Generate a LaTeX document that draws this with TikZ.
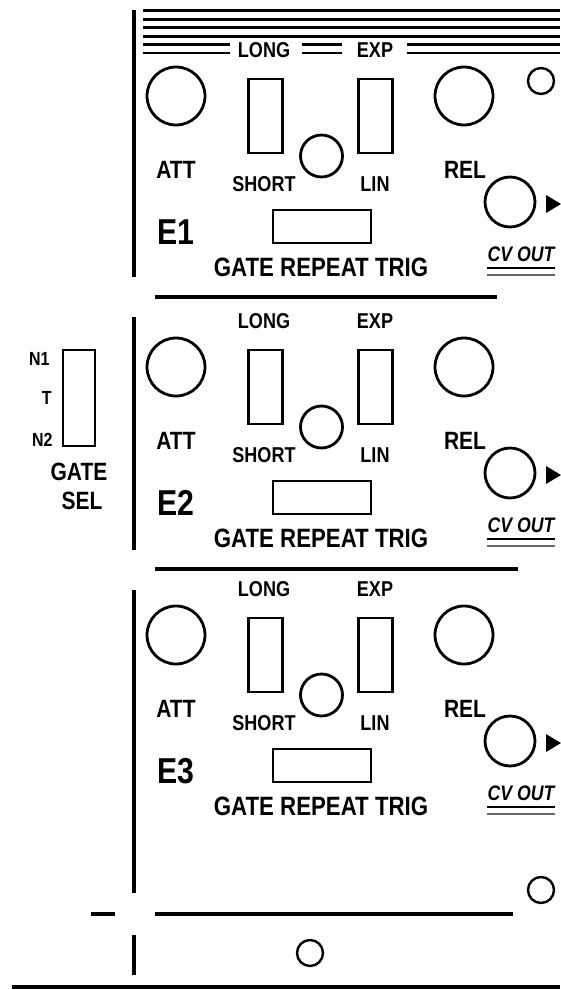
\documentclass[tikz,border=0pt]{standalone}
\usepackage{fontspec}
\newfontfamily\panelfont{Liberation Sans}[FakeStretch=0.84]
\usetikzlibrary{positioning}

\begin{document}
\begin{tikzpicture}[x=1pt, y=-1pt, line width=2.8pt,
  every node/.style={inner sep=0pt, font=\panelfont\bfseries},
  knob/.style={draw, circle, minimum size=58pt},
  jack/.style={draw, circle, minimum size=50pt},
  pot/.style={draw, circle, minimum size=42pt},
  hole/.style={draw, circle, line width=2.4pt, minimum size=26pt},
  switchbox/.style={draw, rectangle, minimum width=34pt, minimum height=74pt},
  lbl/.style={font=\panelfont\bfseries\fontsize{25}{25}\selectfont},
  sublbl/.style={font=\panelfont\bfseries\fontsize{21.5}{22}\selectfont},
  tinylbl/.style={font=\panelfont\bfseries\fontsize{19}{19}\selectfont, anchor=east},
  rule/.style={line width=3.2pt}]
  \useasboundingbox (0,0) rectangle (560,990);

  % top stripes
  \foreach \y in {10.7,19.2,27.7,36.2}
    \draw[rule] (143,\y) -- (560,\y);
  \foreach \y in {44.5,53}
    \draw[line width=2.2pt] (143,\y) -- (230,\y) (302,\y) -- (342,\y) (407,\y) -- (560,\y);

  % the three envelope modules
  \foreach \n/\dy in {1/0, 2/271, 3/539} {
    \begin{scope}[shift={(0,\dy)}]
      \node[knob] (att\n) at (176,96) {};
      \node[knob] (rel\n) at (464,96) {};
      \node[switchbox] (long\n) at (265.5,116) {};
      \node[switchbox] (exp\n) at (375.5,116) {};
      \node[pot] (mid\n) at (321.5,156) {};
      \node[jack] (cv\n) at (510,202) {};
      \node[draw, rectangle, minimum width=98pt, minimum height=33pt] (gate\n) at (322,226.5) {};
      \fill (546,195) -- (561,204) -- (546,213) -- cycle;
      \node[sublbl] (longl\n) at (264,50) {LONG};
      \node[sublbl] (expl\n) at (375,50) {EXP};
      \node[sublbl] (shortl\n) at (264,184) {SHORT};
      \node[sublbl] (linl\n) at (375,184) {LIN};
      \node[lbl] (attl\n) at (176,170) {ATT};
      \node[lbl] (rell\n) at (465,170) {REL};
      \node[font=\panelfont\bfseries\fontsize{36}{36}\selectfont] (el\n) at (176,232) {E\n};
      \node[font=\panelfont\bfseries\fontsize{26.5}{27}\selectfont] (gatel\n) at (321,267) {GATE REPEAT TRIG};
      \node[font=\panelfont\bfseries\itshape\fontsize{21}{21}\selectfont] (cvl\n) at (521,254) {CV OUT};
      \draw[line width=2.8pt] (487,268) -- (555,268);
      \draw[line width=2.2pt, black!60] (487,275) -- (555,275);
    \end{scope}
  }

  % module edges and separators
  \draw[line width=4pt] (134,10) -- (134,277);
  \draw[line width=4pt] (134,317) -- (134,550);
  \draw[line width=4pt] (134,590) -- (134,893);
  \draw[rule] (155,297) -- (497,297);
  \draw[rule] (155,569) -- (518,569);
  \draw[rule] (155,914) -- (513,914);
  \draw[rule] (91,914) -- (115,914);
  \draw[line width=4pt] (134,935) -- (134,975);
  \draw[rule] (12,987) -- (560,987);

  % mounting holes
  \node[hole] (h1) at (541,81) {};
  \node[hole] (h2) at (541,890) {};
  \node[hole] (h3) at (310,953) {};

  % gate select
  \node[draw, rectangle, minimum width=32pt, minimum height=96pt] (gsel) at (79,398) {};
  \node[tinylbl] (n1) at (51,359) {N1};
  \node[tinylbl] (t) at (53,398) {T};
  \node[tinylbl] (n2) at (54,440) {N2};
  \node[lbl] (gsell1) at (79,472) {GATE};
  \node[lbl] (gsell2) at (82,501) {SEL};
\end{tikzpicture}
\end{document}
